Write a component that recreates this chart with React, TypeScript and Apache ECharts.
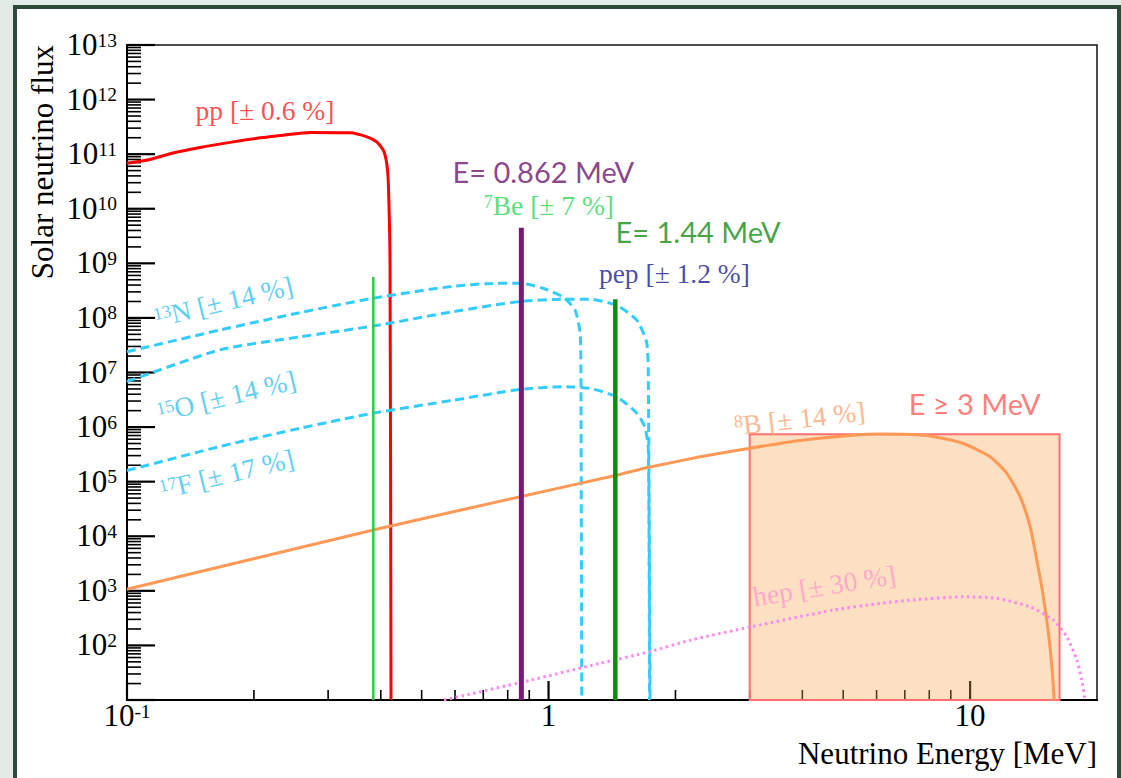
import React, { useEffect, useRef } from 'react';
import * as echarts from 'echarts';

const SERIF = '"Liberation Serif", "DejaVu Serif", serif';
const SANS = 'Lato, "Noto Sans", sans-serif';

// Continuous spectra: [energy (MeV), flux]
const ppSpectrum = [
  [0.1, 6.8e10], [0.1134, 8.0e10], [0.1285, 1.05e11], [0.149, 1.33e11], [0.1785, 1.68e11],
  [0.2067, 1.99e11], [0.2345, 2.23e11], [0.2718, 2.5e11], [0.338, 2.46e11], [0.371, 2.07e11],
  [0.3913, 1.68e11], [0.4055, 1.18e11], [0.4131, 6.8e10], [0.4168, 2.9e10], [0.4207, 1e9], [0.4229, 10],
];
const n13Spectrum = [
  [0.1, 2.4e7], [0.166, 6.0e7], [0.257, 1.25e8], [0.384, 2.3e8], [0.593, 3.8e8], [0.754, 4.3e8], [0.856, 4.3e8],
  [0.97, 3.5e8], [1.084, 2.4e8], [1.156, 1.4e8], [1.188, 5.3e7], [1.193, 1.3e7], [1.199, 10],
];
const o15Spectrum = [
  [0.1, 6.8e6], [0.166, 2.6e7], [0.257, 4.5e7], [0.384, 7.1e7], [0.593, 1.3e8], [0.856, 2.0e8], [1.084, 2.2e8],
  [1.254, 2.2e8], [1.451, 1.7e8], [1.619, 9.1e7], [1.71, 3.5e7], [1.725, 6.4e6], [1.741, 10],
];
const f17Spectrum = [
  [0.1, 1.6e5], [0.166, 4.4e5], [0.257, 9.5e5], [0.384, 1.8e6], [0.593, 3.1e6], [0.856, 4.9e6], [1.084, 5.5e6],
  [1.254, 5.1e6], [1.451, 3.6e6], [1.619, 1.8e6], [1.693, 1.0e6], [1.725, 3.8e5], [1.736, 10],
];
const b8Spectrum = [
  [0.1, 1.07e3], [0.384, 1.3e4], [0.856, 5.3e4], [1.44, 1.3e5], [1.741, 1.85e5], [2.29, 2.85e5],
  [3.03, 4.15e5], [3.95, 5.7e5], [5.19, 7.0e5], [6.12, 7.45e5], [7.2, 7.3e5], [8.04, 6.85e5],
  [9.64, 5.0e5], [11.15, 2.86e5], [12.22, 1.42e5], [13.14, 5.3e4], [13.88, 1.5e4], [14.39, 3.7e3],
  [14.92, 780], [15.34, 167], [15.63, 41], [15.83, 10],
];
const hepSpectrum = [
  [0.565, 10], [0.904, 23], [1.325, 47], [1.741, 77], [2.17, 125], [3.03, 220], [4.74, 445],
  [6.12, 590], [7.34, 680], [9.64, 780], [11.57, 730], [13.88, 510], [15.76, 290], [16.96, 144],
  [17.92, 54], [18.41, 23], [18.7, 11], [18.8, 10],
];

// Monoenergetic lines: [energy, flux]
const be7LowLine = [[0.384, 10], [0.384, 5.6e8]];
const be7HighLine = [[0.862, 10], [0.862, 4.5e9]];
const pepLine = [[1.44, 10], [1.44, 2.2e8]];

// Detection window E >= 3 MeV
const windowEnergies = [3, 16.3];
const windowFlux = [10, 7.4e5];

// Axis ticks and tick labels
const xMajorTicks = [0.1, 1, 10];
const xMinorTicks = [0.2, 0.3, 0.4, 0.5, 0.6, 0.7, 0.8, 0.9, 2, 3, 4, 5, 6, 7, 8, 9];
const xTickLabels = ['{main|10}{sup|-1}', '{main|1}', '{main|10}'];
const yMajorTicks = [1e1, 1e2, 1e3, 1e4, 1e5, 1e6, 1e7, 1e8, 1e9, 1e10, 1e11, 1e12, 1e13];
const yTickExponents = ['', '2', '3', '4', '5', '6', '7', '8', '9', '10', '11', '12', '13'];
const yMinorMantissas = [2, 3, 4, 5, 6, 7, 8, 9];

const CYAN = '#33ccff';
const CYAN_TEXT = '#33c4f2';

const annotations = [
  { text: '{main|pp [± 0.6 %]}', at: [0.145, 6.2e11], color: '#ff1f1f', rotate: 0, sans: false },
  { text: '{sup|7}{main|Be [± 7 %]}', at: [0.7, 1.1e10], color: '#2fd65a', rotate: 0, sans: false },
  { text: '{main|pep [± 1.2 %]}', at: [1.313, 6.3e8], color: '#1c1c8f', rotate: 0, sans: false },
  { text: '{sup|13}{main|N [± 14 %]}', at: [0.1158, 9.5e7], color: CYAN_TEXT, rotate: 13.5, sans: false },
  { text: '{sup|15}{main|O [± 14 %]}', at: [0.1177, 1.77e6], color: CYAN_TEXT, rotate: 13.5, sans: false },
  { text: '{sup|17}{main|F [± 17 %]}', at: [0.1194, 6.8e4], color: CYAN_TEXT, rotate: 13.5, sans: false },
  { text: '{sup|8}{main|B [± 14 %]}', at: [2.75, 1.03e6], color: '#ffa472', rotate: 6.5, sans: false },
  { text: '{main|hep [± 30 %]}', at: [3.05, 757], color: '#ff9ad0', rotate: 9, sans: false },
  { text: 'E= 0.862 MeV', at: [0.59, 4.75e10], color: '#6c1470', rotate: 0, sans: true },
  { text: 'E= 1.44 MeV', at: [1.438, 3.78e9], color: '#148c14', rotate: 0, sans: true },
  { text: 'E ≥ 3 MeV', at: [7.13, 2.67e6], color: '#ff5a5a', rotate: 0, sans: true },
];

const serifRich = (color: string) => ({
  main: { fontFamily: SERIF, fontSize: 27.5, lineHeight: 27, padding: [3, 0, 0, 0], verticalAlign: 'bottom', color },
  sup: { fontFamily: SERIF, fontSize: 18, lineHeight: 18, verticalAlign: 'top', color },
});

const axisRich = {
  main: { fontFamily: SERIF, fontSize: 31, lineHeight: 30, padding: [3, 0, 0, 0], verticalAlign: 'bottom', fill: '#000' },
  sup: { fontFamily: SERIF, fontSize: 19.5, lineHeight: 19, verticalAlign: 'top', fill: '#000' },
};

const yMinorTicks: number[] = [];
yMajorTicks.slice(0, -1).forEach((d) => yMinorMantissas.forEach((m) => yMinorTicks.push(m * d)));

const tickData = [
  ...xMajorTicks.map((v) => [v, 10, 0, 19]),
  ...xMinorTicks.map((v) => [v, 10, 0, 10]),
  ...yMajorTicks.map((v) => [0.1, v, 1, 28]),
  ...yMinorTicks.map((v) => [0.1, v, 1, 14]),
];

const labelData = [
  ...xMajorTicks.map((v) => [v, 10, 0]),
  ...yMajorTicks.map((v) => [0.1, v, 1]),
];
const labelTexts = [
  ...xTickLabels,
  ...yTickExponents.map((e) => (e ? `{main|10}{sup|${e}}` : '')),
];

const lineSeries = (name: string, data: number[][], color: string, width: number, type: any = 'solid', z = 2, smooth: any = false) => ({
  type: 'line',
  name,
  data,
  symbol: 'none',
  showSymbol: false,
  silent: true,
  z,
  smooth,
  lineStyle: { color, width, type, cap: 'butt', join: 'round' },
});

const option: any = {
  animation: false,
  backgroundColor: 'transparent',
  grid: { left: 127, top: 45, width: 970, height: 655, show: true, borderColor: '#111', borderWidth: 1.5, backgroundColor: 'transparent' },
  xAxis: {
    type: 'log', logBase: 10, min: 0.1, max: 20,
    axisLine: { show: true, onZero: false, lineStyle: { color: '#000', width: 2 } },
    axisTick: { show: false }, axisLabel: { show: false }, splitLine: { show: false }, minorTick: { show: false },
  },
  yAxis: {
    type: 'log', logBase: 10, min: 10, max: 1e13,
    axisLine: { show: true, onZero: false, lineStyle: { color: '#000', width: 2 } },
    axisTick: { show: false }, axisLabel: { show: false }, splitLine: { show: false }, minorTick: { show: false },
  },
  graphic: [
    { type: 'text', x: 42, y: 45, rotation: Math.PI / 2, style: { text: 'Solar neutrino flux', font: `31px ${SERIF}`, align: 'right', verticalAlign: 'middle', fill: '#000' } },
    { type: 'text', x: 1097, y: 753, style: { text: 'Neutrino Energy [MeV]', font: `31px ${SERIF}`, align: 'right', verticalAlign: 'middle', fill: '#000' } },
  ],
  series: [
    {
      type: 'custom', name: 'ticks', z: 0, silent: true, clip: false,
      dimensions: ['x', 'y', 'axis', 'len'], encode: { x: 0, y: 1 },
      data: tickData,
      renderItem: (params: any, api: any) => {
        const p = api.coord([api.value(0), api.value(1)]);
        const len = api.value(3);
        const isX = api.value(2) === 0;
        const major = len > 15;
        return {
          type: 'line',
          shape: isX ? { x1: p[0], y1: p[1], x2: p[0], y2: p[1] - len } : { x1: p[0], y1: p[1], x2: p[0] + len, y2: p[1] },
          style: { stroke: '#000', lineWidth: major ? 2.2 : 1.6 },
        };
      },
    },
    {
      type: 'custom', name: 'tickLabels', z: 3, silent: true, clip: false,
      dimensions: ['x', 'y', 'axis'], encode: { x: 0, y: 1 },
      data: labelData,
      renderItem: (params: any, api: any) => {
        const p = api.coord([api.value(0), api.value(1)]);
        const isX = api.value(2) === 0;
        const text = labelTexts[params.dataIndex];
        return {
          type: 'text',
          x: isX ? p[0] : p[0] - 10,
          y: isX ? p[1] + 1 : p[1],
          style: { text, rich: axisRich, fontFamily: SERIF, fontSize: 31, fill: '#000', align: isX ? 'center' : 'right', verticalAlign: isX ? 'top' : 'middle' },
        };
      },
    },
    lineSeries('pp', ppSpectrum, '#ff0000', 3, 'solid', 2, 0.2),
    lineSeries('13N', n13Spectrum, CYAN, 3, [9, 5], 2, 0.2),
    lineSeries('15O', o15Spectrum, CYAN, 3, [9, 5], 2, 0.2),
    lineSeries('17F', f17Spectrum, CYAN, 3, [9, 5], 2, 0.2),
    {
      ...lineSeries('8B', b8Spectrum, '#ff9955', 3, 'solid', 2, 0.2),
      markArea: {
        silent: true,
        itemStyle: { color: 'rgba(249,164,81,0.35)', borderColor: '#ff7070', borderWidth: 2 },
        data: [[{ coord: [windowEnergies[0], windowFlux[1]] }, { coord: [windowEnergies[1], windowFlux[0]] }]],
      },
    },
    lineSeries('hep', hepSpectrum, '#ff88ee', 3, [2.5, 3.5], 2, 0.2),
    lineSeries('7Be 0.384', be7LowLine, '#2ecc44', 2.5, 'solid', 3),
    lineSeries('7Be 0.862', be7HighLine, '#7a1a78', 5, 'solid', 3),
    lineSeries('pep', pepLine, '#118a11', 4.5, 'solid', 3),
    {
      type: 'scatter', name: 'labels', z: 6, silent: true,
      symbolSize: 1, itemStyle: { color: 'rgba(0,0,0,0)' },
      data: annotations.map((a) => ({
        value: a.at,
        label: {
          show: true, position: 'right', distance: 0, rotate: a.rotate,
          formatter: a.text, color: a.color,
          fontFamily: a.sans ? SANS : SERIF, fontSize: a.sans ? 29 : 27.5,
          rich: a.sans ? undefined : serifRich(a.color),
        },
      })),
    },
  ],
};

export default function App() {
  const ref = useRef<HTMLDivElement>(null);
  useEffect(() => {
    const chart = echarts.init(ref.current as HTMLDivElement, undefined, { renderer: 'svg' });
    chart.setOption(option);
    return () => chart.dispose();
  }, []);
  return (
    <div style={{ position: 'fixed', left: 0, top: 0, width: 1121, height: 778, background: '#e3ebe6', overflow: 'hidden' }}>
      <div style={{ position: 'absolute', left: 13, top: 5, width: 1108, height: 800, boxSizing: 'border-box', border: '4px solid #2b4a3a', background: '#fff' }} />
      <div ref={ref} style={{ position: 'absolute', left: 0, top: 0, width: 1121, height: 778 }} />
    </div>
  );
}
